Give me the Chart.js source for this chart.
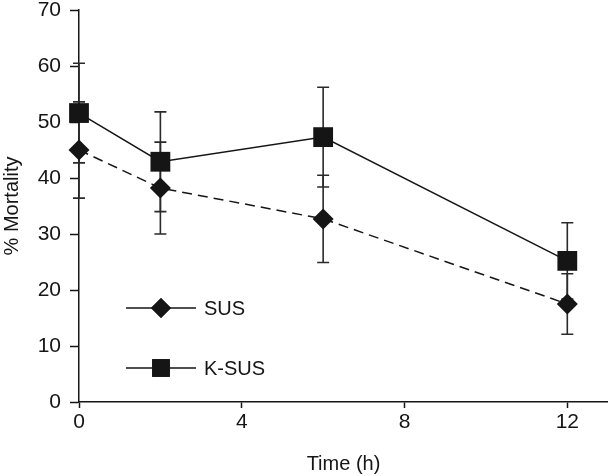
<!DOCTYPE html>
<html>
<head>
<meta charset="utf-8">
<script src="https://cdn.jsdelivr.net/npm/chart.js@4"></script>
<style>
  body { margin: 0; background: #fff; }
  #wrap { width: 608px; height: 476px; }
</style>
</head>
<body>
<div id="wrap"><canvas id="mortalityChart" width="608" height="476"></canvas></div>
<script>
// data
const times = [0, 2, 6, 12];
const susMean = [45.0, 38.2, 32.7, 17.5];
const susErr = [8.6, 8.2, 7.8, 5.4];
const ksusMean = [51.6, 42.9, 47.3, 25.2];
const ksusErr = [8.9, 8.9, 8.9, 6.8];
const xTicks = [0, 4, 8, 12];
const yTicks = [0, 10, 20, 30, 40, 50, 60, 70];

const ink = '#151515';
const font = 'Liberation Sans, Arial, Helvetica, sans-serif';

// error bars, drawn under the markers
const errorBars = {
    id: 'errorBars',
    beforeDatasetsDraw(chart) {
        const { ctx, scales: { x, y } } = chart;
        ctx.save();
        ctx.strokeStyle = '#2a2a2a';
        ctx.lineWidth = 1.6;
        chart.data.datasets.forEach(ds => {
            ds.data.forEach((p, i) => {
                const px = x.getPixelForValue(p.x);
                const top = y.getPixelForValue(p.y + ds.errors[i]);
                const bot = y.getPixelForValue(p.y - ds.errors[i]);
                ctx.beginPath();
                ctx.moveTo(px, top); ctx.lineTo(px, bot);
                ctx.moveTo(px - 6, top); ctx.lineTo(px + 6, top);
                ctx.moveTo(px - 6, bot); ctx.lineTo(px + 6, bot);
                ctx.stroke();
            });
        });
        ctx.restore();
    }
};

// legend in the lower left of the plot
const boxLegend = {
    id: 'boxLegend',
    afterDraw(chart) {
        const { ctx } = chart;
        const rows = [
            { label: 'SUS', style: 'rectRot', radius: 10, y: 308 },
            { label: 'K-SUS', style: 'rect', radius: 12.5, y: 368 }
        ];
        ctx.save();
        rows.forEach(r => {
            ctx.strokeStyle = ink;
            ctx.lineWidth = 1.5;
            ctx.setLineDash([]);
            ctx.beginPath();
            ctx.moveTo(126, r.y); ctx.lineTo(196, r.y);
            ctx.stroke();
            ctx.fillStyle = ink;
            Chart.helpers.drawPoint(ctx, { pointStyle: r.style, radius: r.radius, borderWidth: 0 }, 161, r.y);
            ctx.fill();
            ctx.font = '20px ' + font;
            ctx.textBaseline = 'middle';
            ctx.fillText(r.label, 204, r.y + 1);
        });
        ctx.restore();
    }
};

const toPoints = vals => vals.map((v, i) => ({ x: times[i], y: v }));

new Chart(document.getElementById('mortalityChart'), {
    type: 'line',
    data: {
        datasets: [
            {
                label: 'K-SUS',
                data: toPoints(ksusMean),
                errors: ksusErr,
                borderColor: ink,
                borderWidth: 1.5,
                pointStyle: 'rect',
                pointRadius: 14,
                pointBackgroundColor: ink,
                pointBorderWidth: 0,
                tension: 0,
                clip: false
            },
            {
                label: 'SUS',
                data: toPoints(susMean),
                errors: susErr,
                borderColor: ink,
                borderWidth: 1.5,
                borderDash: [10, 6],
                pointStyle: 'rectRot',
                pointRadius: 10.5,
                pointBackgroundColor: ink,
                pointBorderWidth: 0,
                tension: 0,
                clip: false
            }
        ]
    },
    options: {
        responsive: false,
        animation: false,
        layout: { autoPadding: false, padding: 0 },
        plugins: {
            legend: { display: false },
            tooltip: { enabled: false }
        },
        scales: {
            x: {
                type: 'linear',
                min: 0,
                max: 13,
                afterFit: s => { s.height = 74; s.paddingLeft = 0; s.paddingRight = 0; },
                afterBuildTicks: s => { s.ticks = xTicks.map(v => ({ value: v })); },
                border: { color: ink, width: 1.5 },
                grid: { drawOnChartArea: false, tickLength: 6, tickColor: ink, tickWidth: 1.5 },
                ticks: { color: ink, padding: 2, font: { family: font, size: 21 } },
                title: {
                    display: true, text: 'Time (h)', color: ink, padding: 0,
                    font: { family: font, size: 20 }
                }
            },
            y: {
                min: 0,
                max: 70,
                afterFit: s => { s.width = 79; s.paddingTop = 10; s.paddingBottom = 0; },
                afterBuildTicks: s => { s.ticks = yTicks.map(v => ({ value: v })); },
                border: { color: ink, width: 1.5 },
                grid: { drawOnChartArea: false, tickLength: 9, tickColor: ink, tickWidth: 1.5 },
                ticks: { color: ink, padding: 9, font: { family: font, size: 21 } },
                title: {
                    display: true, text: '% Mortality', color: ink, padding: 0,
                    font: { family: font, size: 20 }
                }
            }
        }
    },
    plugins: [errorBars, boxLegend]
});
</script>
</body>
</html>
